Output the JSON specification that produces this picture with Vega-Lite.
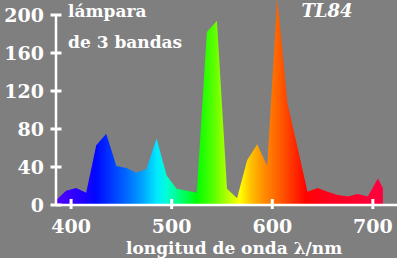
{
  "$schema": "https://vega.github.io/schema/vega-lite/v6.json",
  "width": 342,
  "height": 190,
  "autosize": "none",
  "padding": {"left": 56, "top": 15, "right": 0, "bottom": 53},
  "background": "#7f7f7f",
  "config": {
    "view": {"stroke": null}
  },
  "layer": [
    {
      "data": {
        "values": [
          {"wavelength": 385, "intensity": 5},
          {"wavelength": 395, "intensity": 15},
          {"wavelength": 405, "intensity": 18},
          {"wavelength": 415, "intensity": 13},
          {"wavelength": 425, "intensity": 63},
          {"wavelength": 435, "intensity": 75},
          {"wavelength": 445, "intensity": 41},
          {"wavelength": 455, "intensity": 39},
          {"wavelength": 465, "intensity": 34},
          {"wavelength": 475, "intensity": 38},
          {"wavelength": 485, "intensity": 70},
          {"wavelength": 495, "intensity": 31},
          {"wavelength": 505, "intensity": 17},
          {"wavelength": 515, "intensity": 15},
          {"wavelength": 525, "intensity": 13},
          {"wavelength": 535, "intensity": 182},
          {"wavelength": 545, "intensity": 194},
          {"wavelength": 555, "intensity": 17},
          {"wavelength": 565, "intensity": 7},
          {"wavelength": 575, "intensity": 47},
          {"wavelength": 585, "intensity": 64},
          {"wavelength": 595, "intensity": 41},
          {"wavelength": 605, "intensity": 218},
          {"wavelength": 615, "intensity": 108},
          {"wavelength": 625, "intensity": 61},
          {"wavelength": 635, "intensity": 14},
          {"wavelength": 645, "intensity": 18},
          {"wavelength": 655, "intensity": 14},
          {"wavelength": 665, "intensity": 10.5},
          {"wavelength": 675, "intensity": 9},
          {"wavelength": 685, "intensity": 11.5},
          {"wavelength": 695, "intensity": 9},
          {"wavelength": 705, "intensity": 28},
          {"wavelength": 710, "intensity": 18}
        ]
      },
      "mark": {
        "type": "area",
        "color": {
          "gradient": "linear",
          "x1": 0, "y1": 0, "x2": 1, "y2": 0,
          "stops": [
            {"offset": 0, "color": "#5000ff"},
            {"offset": 0.031, "color": "#4000ff"},
            {"offset": 0.077, "color": "#2200ff"},
            {"offset": 0.123, "color": "#0008ff"},
            {"offset": 0.169, "color": "#0038ff"},
            {"offset": 0.215, "color": "#0068ff"},
            {"offset": 0.262, "color": "#00a0ff"},
            {"offset": 0.308, "color": "#00e8ff"},
            {"offset": 0.338, "color": "#00ffd8"},
            {"offset": 0.369, "color": "#00ff90"},
            {"offset": 0.4, "color": "#00ff48"},
            {"offset": 0.431, "color": "#00ff00"},
            {"offset": 0.477, "color": "#50ff00"},
            {"offset": 0.523, "color": "#b0ff00"},
            {"offset": 0.563, "color": "#ffff00"},
            {"offset": 0.594, "color": "#ffc400"},
            {"offset": 0.631, "color": "#ff9200"},
            {"offset": 0.677, "color": "#ff6400"},
            {"offset": 0.723, "color": "#ff3200"},
            {"offset": 0.763, "color": "#ff0400"},
            {"offset": 0.815, "color": "#ff0018"},
            {"offset": 1, "color": "#ff0040"}
          ]
        }
      },
      "encoding": {
        "x": {"field": "wavelength", "type": "quantitative", "scale": {"domain": [385, 725], "nice": false, "zero": false}, "axis": null},
        "y": {"field": "intensity", "type": "quantitative", "scale": {"domain": [0, 200], "nice": false, "zero": false}, "axis": null}
      }
    },
    {
      "data": {"values": [{}]},
      "mark": {"type": "rule", "color": "#ffffff", "strokeWidth": 2.5},
      "encoding": {
        "x": {"datum": 385, "type": "quantitative", "scale": {"domain": [385, 725], "nice": false, "zero": false}, "axis": null},
        "y": {"datum": 0, "type": "quantitative", "scale": {"domain": [0, 200], "nice": false, "zero": false}, "axis": null},
        "y2": {"datum": 200}
      }
    },
    {
      "data": {"values": [{}]},
      "mark": {"type": "rule", "color": "#ffffff", "strokeWidth": 2.5},
      "encoding": {
        "x": {"datum": 385, "type": "quantitative", "scale": {"domain": [385, 725], "nice": false, "zero": false}, "axis": null},
        "x2": {"datum": 725},
        "y": {"datum": 0, "type": "quantitative", "scale": {"domain": [0, 200], "nice": false, "zero": false}, "axis": null}
      }
    },
    {
      "data": {"values": [{"tick": 400}, {"tick": 500}, {"tick": 600}, {"tick": 700}]},
      "layer": [
        {
          "mark": {"type": "tick", "orient": "vertical", "color": "#ffffff", "size": 10, "thickness": 3, "opacity": 1, "yOffset": -1},
          "encoding": {
            "x": {"field": "tick", "type": "quantitative", "scale": {"domain": [385, 725], "nice": false, "zero": false}, "axis": null},
            "y": {"datum": 0, "type": "quantitative", "scale": {"domain": [0, 200], "nice": false, "zero": false}, "axis": null}
          }
        },
        {
          "mark": {"type": "text", "font": "DejaVu Serif", "fontWeight": "bold", "fontSize": 19, "color": "#ffffff", "align": "center", "baseline": "alphabetic", "dy": 28},
          "encoding": {
            "x": {"field": "tick", "type": "quantitative", "scale": {"domain": [385, 725], "nice": false, "zero": false}, "axis": null},
            "y": {"datum": 0, "type": "quantitative", "scale": {"domain": [0, 200], "nice": false, "zero": false}, "axis": null},
            "text": {"field": "tick", "type": "quantitative", "format": "d"}
          }
        }
      ]
    },
    {
      "data": {"values": [{"tick": 0}, {"tick": 40}, {"tick": 80}, {"tick": 120}, {"tick": 160}, {"tick": 200}]},
      "layer": [
        {
          "mark": {"type": "tick", "orient": "horizontal", "color": "#ffffff", "size": 11, "thickness": 3, "opacity": 1},
          "encoding": {
            "x": {"datum": 385, "type": "quantitative", "scale": {"domain": [385, 725], "nice": false, "zero": false}, "axis": null},
            "y": {"field": "tick", "type": "quantitative", "scale": {"domain": [0, 200], "nice": false, "zero": false}, "axis": null}
          }
        },
        {
          "mark": {"type": "text", "font": "DejaVu Serif", "fontWeight": "bold", "fontSize": 19, "color": "#ffffff", "align": "right", "baseline": "middle", "dx": -12, "dy": 1},
          "encoding": {
            "x": {"datum": 385, "type": "quantitative", "scale": {"domain": [385, 725], "nice": false, "zero": false}, "axis": null},
            "y": {"field": "tick", "type": "quantitative", "scale": {"domain": [0, 200], "nice": false, "zero": false}, "axis": null},
            "text": {"field": "tick", "type": "quantitative", "format": "d"}
          }
        }
      ]
    },
    {
      "data": {"values": [{}]},
      "mark": {"type": "text", "font": "DejaVu Serif", "fontWeight": "bold", "fontSize": 17, "color": "#ffffff", "align": "center", "baseline": "alphabetic", "dy": 49},
      "encoding": {
        "x": {"datum": 562, "type": "quantitative", "scale": {"domain": [385, 725], "nice": false, "zero": false}, "axis": null},
        "y": {"datum": 0, "type": "quantitative", "scale": {"domain": [0, 200], "nice": false, "zero": false}, "axis": null},
        "text": {"value": "longitud de onda λ/nm"}
      }
    },
    {
      "data": {"values": [{}]},
      "mark": {"type": "text", "font": "DejaVu Serif", "fontWeight": "bold", "fontSize": 17, "color": "white", "align": "left", "baseline": "alphabetic"},
      "encoding": {
        "x": {"datum": 397, "type": "quantitative", "scale": {"domain": [385, 725], "nice": false, "zero": false}, "axis": null},
        "y": {"datum": 198, "type": "quantitative", "scale": {"domain": [0, 200], "nice": false, "zero": false}, "axis": null},
        "text": {"value": "lámpara"}
      }
    },
    {
      "data": {"values": [{}]},
      "mark": {"type": "text", "font": "DejaVu Serif", "fontWeight": "bold", "fontSize": 17, "color": "white", "align": "left", "baseline": "alphabetic"},
      "encoding": {
        "x": {"datum": 397, "type": "quantitative", "scale": {"domain": [385, 725], "nice": false, "zero": false}, "axis": null},
        "y": {"datum": 165, "type": "quantitative", "scale": {"domain": [0, 200], "nice": false, "zero": false}, "axis": null},
        "text": {"value": "de 3 bandas"}
      }
    },
    {
      "data": {"values": [{}]},
      "mark": {"type": "text", "font": "DejaVu Serif", "fontWeight": "bold", "fontStyle": "italic", "fontSize": 18, "color": "white", "align": "left", "baseline": "alphabetic"},
      "encoding": {
        "x": {"datum": 629, "type": "quantitative", "scale": {"domain": [385, 725], "nice": false, "zero": false}, "axis": null},
        "y": {"datum": 198, "type": "quantitative", "scale": {"domain": [0, 200], "nice": false, "zero": false}, "axis": null},
        "text": {"value": "TL84"}
      }
    }
  ]
}
